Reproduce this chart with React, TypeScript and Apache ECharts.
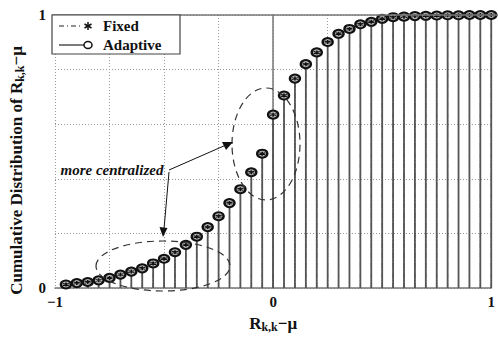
import React, { useEffect, useRef } from "react";
import * as echarts from "echarts";

const xValues = [
  -0.95, -0.9, -0.85, -0.8, -0.75, -0.7, -0.65, -0.6, -0.55, -0.5,
  -0.45, -0.4, -0.35, -0.3, -0.25, -0.2, -0.15, -0.1, -0.05, 0,
  0.05, 0.1, 0.15, 0.2, 0.25, 0.3, 0.35, 0.4, 0.45, 0.5,
  0.55, 0.6, 0.65, 0.7, 0.75, 0.8, 0.85, 0.9, 0.95, 1.0,
];
const fixedValues = [
  0.013, 0.018, 0.022, 0.028, 0.037, 0.049, 0.06, 0.072, 0.09, 0.107,
  0.131, 0.158, 0.188, 0.223, 0.263, 0.311, 0.362, 0.424, 0.492, 0.635,
  0.705, 0.767, 0.82, 0.863, 0.901, 0.931, 0.949, 0.966, 0.975, 0.986,
  0.992, 0.994, 0.996, 0.997, 0.998, 0.999, 0.999, 1.0, 1.0, 1.0,
];
const adaptiveValues = [
  0.013, 0.018, 0.022, 0.028, 0.037, 0.049, 0.06, 0.072, 0.09, 0.107,
  0.131, 0.158, 0.188, 0.223, 0.263, 0.311, 0.362, 0.424, 0.492, 0.635,
  0.705, 0.767, 0.82, 0.863, 0.901, 0.931, 0.949, 0.966, 0.975, 0.986,
  0.992, 0.994, 0.996, 0.997, 0.998, 0.999, 0.999, 1.0, 1.0, 1.0,
];
const xTickLabels: Record<string, string> = { "-1": "\u22121", "0": "0", "1": "1" };
const yTickLabels: Record<string, string> = { "0": "0", "1": "1" };

const FONT = "Liberation Serif";
const ASTERISK = "path://M5,0 L5,10 M0.7,2.5 L9.3,7.5 M9.3,2.5 L0.7,7.5";

function stemSeries(name: string, values: number[], style: any, z: number) {
  return {
    name,
    type: "custom",
    z,
    data: xValues.map((x, i) => [x, values[i]]),
    renderItem: (params: any, api: any) => {
      const x = api.value(0);
      const y = api.value(1);
      const p0 = api.coord([x, 0]);
      const p1 = api.coord([x, y]);
      return {
        type: "line",
        shape: { x1: p0[0], y1: p0[1], x2: p1[0], y2: p1[1] },
        style,
      };
    },
  };
}

export default function App() {
  const ref = useRef<HTMLDivElement>(null);
  useEffect(() => {
    if (!ref.current) return;
    const chart = echarts.init(ref.current, null, { renderer: "svg" });
    const fixedData = xValues.map((x, i) => [x, fixedValues[i]]);
    const adaptiveData = xValues.map((x, i) => [x, adaptiveValues[i]]);
    chart.setOption({
      animation: false,
      backgroundColor: "#fff",
      grid: { left: 52, right: 2, top: 15, bottom: 41, containLabel: false },
      xAxis: {
        type: "value",
        min: -1,
        max: 1,
        interval: 0.25,
        name: "{b|R}{s|k,k}{b|\u2212\u03bc}",
        nameLocation: "middle",
        nameGap: 26,
        nameTextStyle: {
          rich: {
            b: { fontFamily: FONT, fontWeight: "bold", fontSize: 17, color: "#111" },
            s: { fontFamily: FONT, fontWeight: "bold", fontSize: 12, color: "#111", verticalAlign: "bottom", padding: [7, 0, 0, 0] },
          },
        },
        axisLine: { show: true, onZero: false, lineStyle: { color: "#777", width: 1.5 } },
        axisTick: { show: false },
        axisLabel: {
          formatter: (v: number) => xTickLabels[String(Math.round(v * 100) / 100)] ?? "",
          fontFamily: FONT,
          fontWeight: "bold",
          fontSize: 15,
          color: "#111",
          margin: 6,
        },
        splitLine: { show: true, lineStyle: { color: "#999", type: [1, 2], width: 1 } },
      },
      yAxis: {
        type: "value",
        min: 0,
        max: 1,
        interval: 0.2,
        name: "{b|Cumulative Distribution of R}{s|k,k}{b|\u2212\u03bc}",
        nameLocation: "middle",
        nameGap: 29,
        nameTextStyle: {
          padding: [0, 38, 0, 0],
          rich: {
            b: { fontFamily: FONT, fontWeight: "bold", fontSize: 17, color: "#111" },
            s: { fontFamily: FONT, fontWeight: "bold", fontSize: 12, color: "#111", verticalAlign: "bottom", padding: [7, 0, 0, 0] },
          },
        },
        axisLine: { show: true, lineStyle: { color: "#777", width: 1.5 } },
        axisTick: { show: false },
        axisLabel: {
          formatter: (v: number) => yTickLabels[String(Math.round(v * 100) / 100)] ?? "",
          fontFamily: FONT,
          fontWeight: "bold",
          fontSize: 15,
          color: "#111",
          margin: 9,
        },
        splitLine: { show: true, lineStyle: { color: "#999", type: [1, 2], width: 1 } },
      },
      series: [
        stemSeries("Fixed", fixedValues, { stroke: "#222", lineWidth: 1, lineDash: [5, 2, 1, 2] }, 2),
        stemSeries("Adaptive", adaptiveValues, { stroke: "#555", lineWidth: 1.8 }, 3),
        {
          name: "Adaptive",
          type: "scatter",
          z: 4,
          data: adaptiveData,
          symbol: "circle",
          symbolSize: [10, 8],
          itemStyle: { color: "#bbb", borderColor: "#111", borderWidth: 2.2, opacity: 1 },
        },
        {
          name: "Fixed",
          type: "scatter",
          z: 5,
          data: fixedData,
          symbol: ASTERISK,
          symbolSize: [6, 4],
          itemStyle: { color: "none", borderColor: "#111", borderWidth: 1.3, opacity: 1 },
        },
      ],
      graphic: [
        { type: "line", shape: { x1: 52, y1: 15, x2: 498, y2: 15 }, style: { stroke: "#777", lineWidth: 1.5 }, z: 10 },
        // legend
        { type: "rect", shape: { x: 52, y: 15, width: 128, height: 39 }, style: { fill: "#fff", stroke: "#444", lineWidth: 1.2 }, z: 20 },
        { type: "line", shape: { x1: 59, y1: 26, x2: 83, y2: 26 }, style: { stroke: "#222", lineWidth: 1.2, lineDash: [5, 3, 1, 3] }, z: 21 },
        { type: "line", shape: { x1: 88, y1: 22, x2: 88, y2: 30 }, style: { stroke: "#111", lineWidth: 1.5 }, z: 21 },
        { type: "line", shape: { x1: 84.5, y1: 24, x2: 91.5, y2: 28 }, style: { stroke: "#111", lineWidth: 1.5 }, z: 21 },
        { type: "line", shape: { x1: 91.5, y1: 24, x2: 84.5, y2: 28 }, style: { stroke: "#111", lineWidth: 1.5 }, z: 21 },
        { type: "text", x: 103, y: 26, style: { text: "Fixed", font: `bold 15px "${FONT}"`, fill: "#111", textVerticalAlign: "middle" }, z: 21 },
        { type: "line", shape: { x1: 59, y1: 45, x2: 84, y2: 45 }, style: { stroke: "#222", lineWidth: 1.2 }, z: 21 },
        { type: "ellipse", shape: { cx: 88, cy: 45, rx: 4, ry: 3.5 }, style: { fill: "#fff", stroke: "#111", lineWidth: 1.5 }, z: 21 },
        { type: "text", x: 103, y: 45, style: { text: "Adaptive", font: `bold 15px "${FONT}"`, fill: "#111", textVerticalAlign: "middle" }, z: 21 },
        // annotations
        { type: "ellipse", shape: { cx: 163, cy: 266, rx: 67, ry: 25 }, style: { fill: "none", stroke: "#333", lineWidth: 1.2, lineDash: [7, 5] }, z: 12 },
        { type: "ellipse", shape: { cx: 266, cy: 144, rx: 34, ry: 56 }, style: { fill: "none", stroke: "#333", lineWidth: 1.2, lineDash: [7, 5] }, z: 12 },
        { type: "text", x: 112, y: 170, style: { text: "more centralized", font: `italic bold 15px "${FONT}"`, fill: "#111", textAlign: "center", textVerticalAlign: "middle" }, z: 12 },
        { type: "line", shape: { x1: 169, y1: 170, x2: 226, y2: 145 }, style: { stroke: "#111", lineWidth: 1 }, z: 12 },
        { type: "polygon", shape: { points: [[233, 142], [222, 142], [226, 150]] }, style: { fill: "#111" }, z: 12 },
        { type: "line", shape: { x1: 169, y1: 172, x2: 164, y2: 229 }, style: { stroke: "#111", lineWidth: 1 }, z: 12 },
        { type: "polygon", shape: { points: [[163, 237], [159.5, 227], [167.5, 228]] }, style: { fill: "#111" }, z: 12 },
      ],
    });
    return () => chart.dispose();
  }, []);
  return <div ref={ref} style={{ width: 498, height: 338, position: "absolute", left: 0, top: 0 }} />;
}
